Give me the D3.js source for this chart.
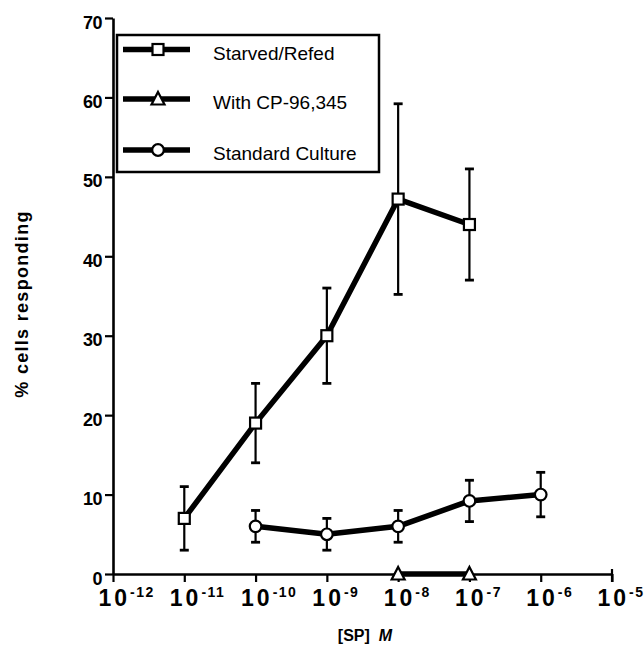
<!DOCTYPE html>
<html>
<head>
<meta charset="utf-8">
<script src="https://cdn.jsdelivr.net/npm/d3@7"></script>
<style>
  html, body { margin: 0; padding: 0; background: #fff; }
  svg { display: block; }
  text { font-family: "Liberation Sans", Arial, Helvetica, sans-serif; fill: #000; }
</style>
</head>
<body>
<svg id="chart" width="644" height="654"></svg>
<script>
// ---- Data ----
const concentrations = [1e-11, 1e-10, 1e-9, 1e-8, 1e-7, 1e-6];

const starvedX   = [1e-11, 1e-10, 1e-9, 1e-8, 1e-7];
const starvedY   = [7, 19, 30, 47.2, 44];
const starvedErr = [4, 5, 6, 12, 7];

const cpX = [1e-8, 1e-7];
const cpY = [0, 0];

const standardX   = [1e-10, 1e-9, 1e-8, 1e-7, 1e-6];
const standardY   = [6, 5, 6, 9.2, 10];
const standardErr = [2, 2, 2, 2.6, 2.8];

const seriesNames = ["Starved/Refed", "With CP-96,345", "Standard Culture"];
const seriesMarkers = ["square", "triangle", "circle"];

const xTickValues = [1e-12, 1e-11, 1e-10, 1e-9, 1e-8, 1e-7, 1e-6, 1e-5];
const xTickBase = "10";
const xTickExponents = ["-12", "-11", "-10", "-9", "-8", "-7", "-6", "-5"];
const yTickValues = [0, 10, 20, 30, 40, 50, 60, 70];

const xTitleMain = "[SP]";
const xTitleUnit = "M";
const yTitle = "% cells responding";

// ---- Scales ----
const svg = d3.select("#chart");
const x = d3.scaleLog().domain([1e-12, 1e-5]).range([113, 612]);
const y = d3.scaleLinear().domain([0, 70]).range([574, 18]);

// ---- Axes ----
const yAxis = svg.append("g")
  .attr("transform", `translate(${x.range()[0]},0)`)
  .call(d3.axisLeft(y).tickValues(yTickValues).tickSize(8).tickSizeOuter(0).tickPadding(3));
yAxis.select(".domain").attr("stroke", "#000").attr("stroke-width", 2.6);
yAxis.selectAll(".tick line").attr("stroke", "#000").attr("stroke-width", 2.2);
yAxis.selectAll(".tick text")
  .attr("font-size", 18).attr("font-weight", "bold").attr("dy", "0.56em")
  .attr("letter-spacing", -0.5)
  .style("font-family", "'Liberation Sans', Arial, sans-serif");

const xAxis = svg.append("g")
  .attr("transform", `translate(0,${y(0)})`)
  .call(d3.axisBottom(x).tickValues(xTickValues).tickSize(8).tickSizeOuter(0).tickFormat(() => ""));
xAxis.select(".domain").attr("stroke", "#000").attr("stroke-width", 2.6);
xAxis.selectAll(".tick line").attr("stroke", "#000").attr("stroke-width", 2.2);
// end tick at 10^-5 crosses the axis
xAxis.append("line")
  .attr("x1", x(1e-5)).attr("x2", x(1e-5)).attr("y1", -5).attr("y2", 8)
  .attr("stroke", "#000").attr("stroke-width", 2.2);

xAxis.selectAll(".tick").each(function(d, i) {
  const t = d3.select(this).select("text")
    .attr("x", -15).attr("y", 32).attr("dy", null)
    .attr("text-anchor", "start")
    .attr("font-weight", "bold");
  t.append("tspan").attr("font-size", 23).attr("letter-spacing", 3).text(xTickBase);
  t.append("tspan").attr("font-size", 14).attr("letter-spacing", 1.5).attr("dy", -9).text(xTickExponents[i]);
});

// ---- Axis titles ----
const xt = svg.append("text")
  .attr("x", 365).attr("y", 641)
  .attr("text-anchor", "middle").attr("font-size", 16).attr("font-weight", "bold");
xt.append("tspan").text(xTitleMain);
xt.append("tspan").attr("dx", 9).attr("font-style", "italic").text(xTitleUnit);

svg.append("text")
  .attr("transform", "translate(28,304) rotate(-90)")
  .attr("text-anchor", "middle").attr("font-size", 18).attr("font-weight", "bold")
  .attr("letter-spacing", 1.3)
  .text(yTitle);

// ---- Helpers ----
const line = d3.line().x(d => x(d[0])).y(d => y(d[1]));
const LW = 5.5;

function errorBars(xs, ys, es) {
  const g = svg.append("g").attr("stroke", "#000");
  xs.forEach((xv, i) => {
    const cx = x(xv);
    g.append("line").attr("x1", cx).attr("x2", cx)
      .attr("y1", y(ys[i] + es[i])).attr("y2", y(ys[i] - es[i]))
      .attr("stroke-width", 2.2);
    [ys[i] + es[i], ys[i] - es[i]].forEach(v => {
      g.append("line").attr("x1", cx - 4.5).attr("x2", cx + 4.5)
        .attr("y1", y(v)).attr("y2", y(v)).attr("stroke-width", 2.8);
    });
  });
}

function marker(g, type, cx, cy) {
  if (type === "square") {
    g.append("rect").attr("x", cx - 5.5).attr("y", cy - 5.5).attr("width", 11).attr("height", 11)
      .attr("fill", "#fff").attr("stroke", "#000").attr("stroke-width", 2.2);
  } else if (type === "circle") {
    g.append("circle").attr("cx", cx).attr("cy", cy).attr("r", 5.8)
      .attr("fill", "#fff").attr("stroke", "#000").attr("stroke-width", 2.2);
  } else {
    g.append("path")
      .attr("d", `M${cx},${cy - 7} L${cx + 6.5},${cy + 5.5} L${cx - 6.5},${cy + 5.5} Z`)
      .attr("fill", "#fff").attr("stroke", "#000").attr("stroke-width", 2.2)
      .attr("stroke-linejoin", "miter");
  }
}

// ---- Error bars ----
errorBars(starvedX, starvedY, starvedErr);
errorBars(standardX, standardY, standardErr);

// ---- Lines ----
const seriesData = [
  starvedX.map((v, i) => [v, starvedY[i]]),
  cpX.map((v, i) => [v, cpY[i]]),
  standardX.map((v, i) => [v, standardY[i]])
];
seriesData.forEach(data => {
  svg.append("path").datum(data).attr("d", line)
    .attr("fill", "none").attr("stroke", "#000").attr("stroke-width", LW)
    .attr("stroke-linejoin", "round");
});

// ---- Markers ----
const mg = svg.append("g");
seriesData.forEach((data, s) => {
  data.forEach(d => marker(mg, seriesMarkers[s], x(d[0]), y(d[1])));
});

// ---- Legend ----
const lg = svg.append("g");
lg.append("rect").attr("x", 117).attr("y", 35).attr("width", 262).attr("height", 137)
  .attr("fill", "#fff").attr("stroke", "#000").attr("stroke-width", 2.5);
const rowY = [49.5, 99, 150];
seriesNames.forEach((name, i) => {
  lg.append("line").attr("x1", 123).attr("x2", 190).attr("y1", rowY[i]).attr("y2", rowY[i])
    .attr("stroke", "#000").attr("stroke-width", LW);
  marker(lg, seriesMarkers[i], 158, rowY[i]);
  lg.append("text").attr("x", 213).attr("y", rowY[i] + 10)
    .attr("font-size", 19).text(name);
});
</script>
</body>
</html>
